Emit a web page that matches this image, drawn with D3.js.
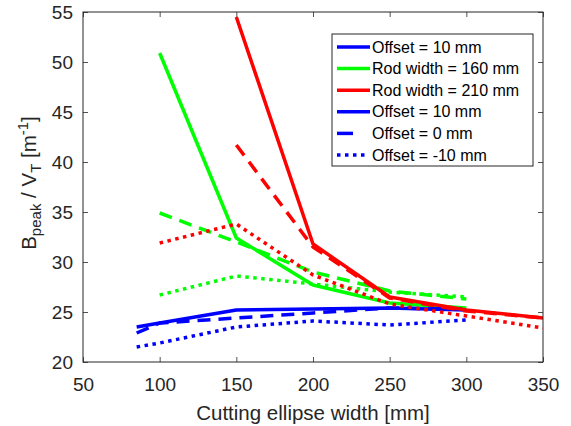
<!DOCTYPE html>
<html>
<head>
<meta charset="utf-8">
<script src="https://cdn.jsdelivr.net/npm/d3@7"></script>
<style>
  html, body { margin: 0; padding: 0; background: #fff; }
  svg { display: block; font-family: "Liberation Sans", Arial, Helvetica, sans-serif; }
</style>
</head>
<body>
<svg id="chart" width="571" height="426"></svg>
<script>
// Cutting ellipse widths [mm]
const widthsBlue = [85, 100, 150, 200, 250, 300];
const widthsGreen = [100, 150, 200, 250, 300];
const widthsRed = [150, 200, 250, 300, 350];
const widthsRedDotted = [100, 150, 200, 250, 300, 350];

// B_peak / V_T [1/m]
const blueOffset10 = [23.5, 23.9, 25.2, 25.3, 25.4, 25.2];
const blueOffset0 = [22.9, 23.9, 24.4, 24.9, 25.4, 25.3];
const blueOffsetNeg10 = [21.5, 21.9, 23.5, 24.1, 23.7, 24.2];

const greenOffset10 = [50.9, 32.4, 27.7, 25.9, 25.4];
const greenOffset0 = [34.9, 32.0, 29.0, 27.1, 26.3];
const greenOffsetNeg10 = [26.7, 28.6, 27.8, 27.0, 26.5];

const redOffset10 = [54.5, 31.8, 26.5, 25.2, 24.4];
const redOffset0 = [41.7, 31.5, 26.4, 25.1, 24.4];
const redOffsetNeg10 = [31.9, 33.8, 28.7, 25.8, 24.6, 23.4];

const xTicks = [50, 100, 150, 200, 250, 300, 350];
const yTicks = [20, 25, 30, 35, 40, 45, 50, 55];

const legendLabels = ["Offset = 10 mm", "Rod width = 160 mm", "Rod width = 210 mm",
                      "Offset = 10 mm", "Offset = 0 mm", "Offset = -10 mm"];

const colors = { blue: "#0000ff", green: "#00ff00", red: "#ff0000" };
const dashes = { solid: null, dashed: "13,8", dotted: "3.5,4.5" };

const series = [
  { x: widthsGreen, y: greenOffset10, color: colors.green, style: "solid" },
  { x: widthsGreen, y: greenOffset0, color: colors.green, style: "dashed" },
  { x: widthsGreen, y: greenOffsetNeg10, color: colors.green, style: "dotted" },
  { x: widthsBlue, y: blueOffset10, color: colors.blue, style: "solid" },
  { x: widthsBlue, y: blueOffset0, color: colors.blue, style: "dashed" },
  { x: widthsBlue, y: blueOffsetNeg10, color: colors.blue, style: "dotted" },
  { x: widthsRed, y: redOffset10, color: colors.red, style: "solid" },
  { x: widthsRed, y: redOffset0, color: colors.red, style: "dashed" },
  { x: widthsRedDotted, y: redOffsetNeg10, color: colors.red, style: "dotted" }
];

const legendItems = [
  { color: colors.blue, style: "solid" },
  { color: colors.green, style: "solid" },
  { color: colors.red, style: "solid" },
  { color: colors.blue, style: "solid" },
  { color: colors.blue, style: "dashed" },
  { color: colors.blue, style: "dotted" }
].map((d, i) => ({ ...d, label: legendLabels[i] }));

const svg = d3.select("#chart");
const m = { left: 83, right: 543, top: 12, bottom: 362 };
const axisColor = "#262626";

const x = d3.scaleLinear().domain([50, 350]).range([m.left, m.right]);
const y = d3.scaleLinear().domain([20, 55]).range([m.bottom, m.top]);

const clipId = "plot-clip";
svg.append("defs").append("clipPath").attr("id", clipId)
  .append("rect").attr("x", m.left).attr("y", m.top)
  .attr("width", m.right - m.left).attr("height", m.bottom - m.top);

// Data lines
const line = d3.line().x(d => x(d[0])).y(d => y(d[1]));
const plot = svg.append("g").attr("clip-path", `url(#${clipId})`);
series.forEach(s => {
  plot.append("path")
    .datum(s.x.map((v, i) => [v, s.y[i]]))
    .attr("d", line)
    .attr("fill", "none")
    .attr("stroke", s.color)
    .attr("stroke-width", 3.5)
    .attr("stroke-linejoin", "round")
    .attr("stroke-dasharray", dashes[s.style]);
});

// Axes with inward ticks on all four sides
const tickLen = 5;
const fmt = d3.format("d");
const axisStyle = g => {
  g.select(".domain").remove();
  g.selectAll(".tick line").attr("stroke", axisColor).attr("stroke-width", 0.8);
  g.selectAll(".tick text").attr("fill", axisColor).attr("font-size", 19)
    .attr("font-family", "Liberation Sans, Arial, sans-serif");
};

svg.append("g").attr("transform", `translate(0,${m.bottom})`)
  .call(d3.axisBottom(x).tickValues(xTicks).tickFormat(fmt).tickSizeInner(-tickLen).tickSizeOuter(0).tickPadding(16))
  .call(axisStyle);
svg.append("g").attr("transform", `translate(0,${m.top})`)
  .call(d3.axisTop(x).tickValues(xTicks).tickFormat("").tickSizeInner(-tickLen).tickSizeOuter(0))
  .call(axisStyle);
svg.append("g").attr("transform", `translate(${m.left},0)`)
  .call(d3.axisLeft(y).tickValues(yTicks).tickFormat(fmt).tickSizeInner(-tickLen).tickSizeOuter(0).tickPadding(10))
  .call(axisStyle);
svg.append("g").attr("transform", `translate(${m.right},0)`)
  .call(d3.axisRight(y).tickValues(yTicks).tickFormat("").tickSizeInner(-tickLen).tickSizeOuter(0))
  .call(axisStyle);

// Box
svg.append("rect")
  .attr("x", m.left).attr("y", m.top)
  .attr("width", m.right - m.left).attr("height", m.bottom - m.top)
  .attr("fill", "none").attr("stroke", axisColor).attr("stroke-width", 1);

// Axis labels
svg.append("text")
  .attr("x", (m.left + m.right) / 2).attr("y", 420)
  .attr("text-anchor", "middle").attr("font-size", 20.5).attr("fill", axisColor)
  .text("Cutting ellipse width [mm]");

const yl = svg.append("text")
  .attr("transform", `translate(36,183) rotate(-90)`)
  .attr("text-anchor", "middle").attr("font-size", 20.5).attr("fill", axisColor);
yl.append("tspan").text("B");
yl.append("tspan").attr("font-size", 15).attr("dy", 5).text("peak");
yl.append("tspan").attr("dy", -5).text(" / V");
yl.append("tspan").attr("font-size", 15).attr("dy", 5).text("T");
yl.append("tspan").attr("dy", -5).text(" [m");
yl.append("tspan").attr("font-size", 15).attr("dy", -8).text("-1");
yl.append("tspan").attr("dy", 8).text("]");

// Legend
const lg = svg.append("g");
lg.append("rect")
  .attr("x", 332).attr("y", 34).attr("width", 201).attr("height", 132)
  .attr("fill", "#fff").attr("stroke", axisColor).attr("stroke-width", 1);
legendItems.forEach((d, i) => {
  const cy = 47 + i * 21.6;
  let x1 = 337, x2 = 370;
  if (d.style === "dashed") { x1 = 337; x2 = 353; }
  if (d.style === "dotted") { x1 = 337; x2 = 366; }
  lg.append("line")
    .attr("x1", x1).attr("x2", x2).attr("y1", cy).attr("y2", cy)
    .attr("stroke", d.color).attr("stroke-width", 3.5)
    .attr("stroke-dasharray", d.style === "dotted" ? dashes.dotted : null);
  lg.append("text")
    .attr("x", 372).attr("y", cy + 5.5)
    .attr("font-size", 16).attr("fill", "#000")
    .text(d.label);
});
</script>
</body>
</html>
